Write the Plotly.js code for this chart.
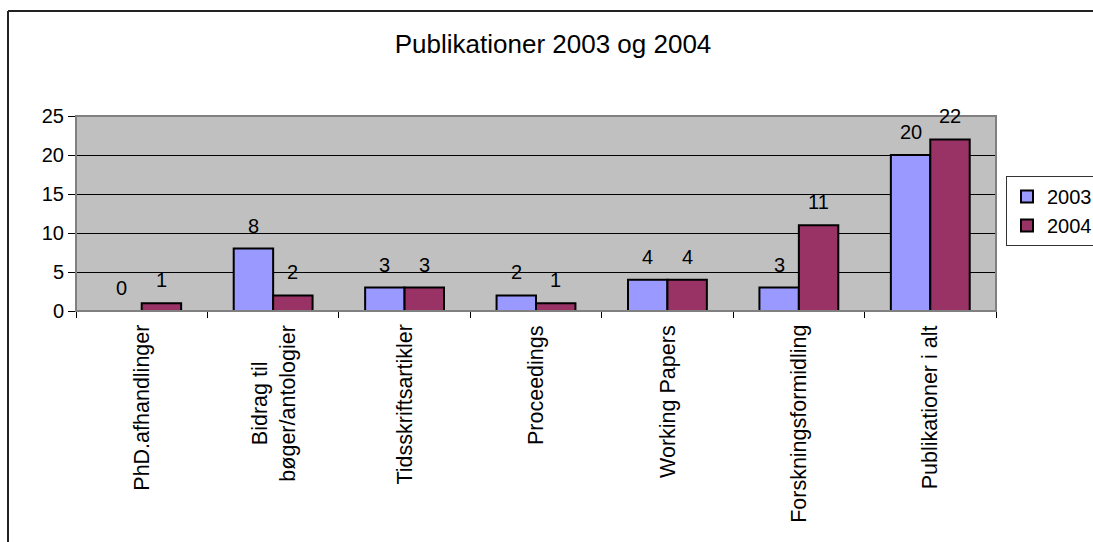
<!DOCTYPE html>
<html>
<head>
<meta charset="utf-8">
<script src="https://cdn.plot.ly/plotly-3.0.1.min.js"></script>
<style>html,body{margin:0;padding:0;background:#fff}#chart{width:1093px;height:542px}</style>
</head>
<body>
<div id="chart"></div>
<script>
var categories = ["PhD.afhandlinger", "Bidrag til<br>bøger/antologier", "Tidsskriftsartikler", "Proceedings", "Working Papers", "Forskningsformidling", "Publikationer i alt"];
var values2003 = [0, 8, 3, 2, 4, 3, 20];
var values2004 = [1, 2, 3, 1, 4, 11, 22];
var seriesNames = ["2003", "2004"];
var yTicks = [0, 5, 10, 15, 20, 25];

var W = 1093, H = 542;
var M = {l: 76, r: 97, t: 116, b: 231, autoexpand: false};
var bargap = 0.4;
var pw = W - M.l - M.r, ph = H - M.t - M.b;
var catW = pw / categories.length;
var barW = catW * (1 - bargap) / 2;
var FONT = "Liberation Sans, Arial, sans-serif";

var traces = [
  {type: "bar", name: seriesNames[0], x: categories, y: values2003,
   marker: {color: "#9999FF", line: {color: "#000", width: 2}}, hoverinfo: "y"},
  {type: "bar", name: seriesNames[1], x: categories, y: values2004,
   marker: {color: "#993366", line: {color: "#000", width: 2}}, hoverinfo: "y"}
];

var annotations = [];
[values2003, values2004].forEach(function (vals, si) {
  vals.forEach(function (v, i) {
    annotations.push({
      x: categories[i], y: v, xref: "x", yref: "y", text: String(v),
      showarrow: false, xanchor: "center", yanchor: "bottom",
      xshift: (si === 0 ? -1 : 1) * barW / 2, yshift: 10,
      font: {family: FONT, size: 20, color: "#000"}
    });
  });
});
// category labels (rotated, lines centred like the original)
categories.forEach(function (c) {
  annotations.push({
    x: c, y: 0, xref: "x", yref: "paper", text: c, textangle: -90,
    showarrow: false, xanchor: "center", yanchor: "top", align: "center",
    yshift: -12, font: {family: FONT, size: 21.5, color: "#000"}
  });
});

var layout = {
  width: W, height: H,
  margin: M,
  paper_bgcolor: "#fff",
  plot_bgcolor: "#C0C0C0",
  barmode: "group",
  bargap: bargap,
  bargroupgap: 0,
  font: {family: FONT, size: 20, color: "#000"},
  title: {text: "Publikationer 2003 og 2004", xref: "container", yref: "container",
          x: 0.506, y: 0.919, xanchor: "center", yanchor: "middle",
          font: {family: FONT, size: 26, color: "#000"}},
  xaxis: {type: "category", tickson: "boundaries", ticks: "outside", showticklabels: false,
          ticklen: 6, tickcolor: "#000", tickwidth: 1, showline: true, linecolor: "#000",
          linewidth: 1, showgrid: false, zeroline: false},
  yaxis: {range: [0, 25], tickvals: yTicks, ticks: "outside", ticklen: 7, tickcolor: "#000",
          showline: true, linecolor: "#000", linewidth: 1, showgrid: true, gridcolor: "#000",
          gridwidth: 1, zeroline: false, tickfont: {family: FONT, size: 20, color: "#000"}},
  showlegend: true,
  legend: {x: (1006 - M.l) / pw, y: (H - M.b - 176) / ph, xanchor: "left", yanchor: "top",
           bgcolor: "#fff", bordercolor: "#333", borderwidth: 1,
           font: {family: FONT, size: 20, color: "#000"}, tracegroupgap: 0, itemwidth: 30},
  annotations: annotations,
  shapes: [
    {type: "rect", xref: "paper", yref: "paper", x0: 0, x1: 1, y0: 0, y1: 1,
     line: {color: "#808080", width: 2}, fillcolor: "rgba(0,0,0,0)", layer: "above"},
    {type: "line", xref: "paper", yref: "paper", x0: (8 - M.l) / pw, x1: (8 - M.l) / pw,
     y0: (H - M.b - 560) / ph, y1: (H - M.b - 11) / ph, line: {color: "#222", width: 2}},
    {type: "line", xref: "paper", yref: "paper", x0: (8 - M.l) / pw, x1: (1100 - M.l) / pw,
     y0: (H - M.b - 11) / ph, y1: (H - M.b - 11) / ph, line: {color: "#222", width: 2}}
  ]
};

Plotly.newPlot("chart", traces, layout, {displayModeBar: false, staticPlot: true});
</script>
</body>
</html>
